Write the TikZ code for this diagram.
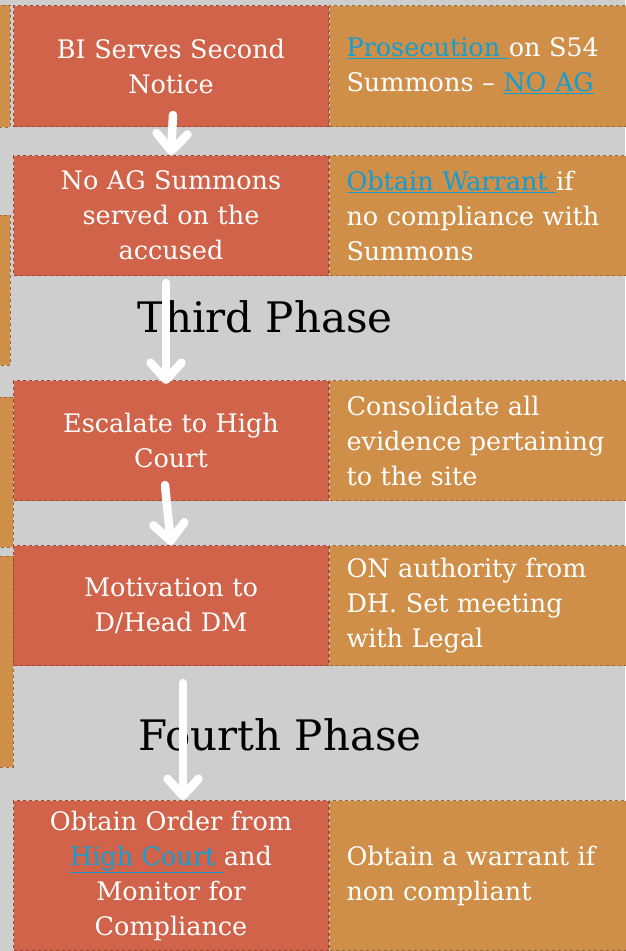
\documentclass[tikz,border=0pt]{standalone}
\usepackage{fontspec}
\setmainfont{DejaVu Serif}
\usepackage{tikz}
\usetikzlibrary{arrows.meta,calc}
\usetikzlibrary{positioning}
\definecolor{bggray}{HTML}{CECECE}
\definecolor{brick}{HTML}{D0634A}
\definecolor{brickline}{HTML}{A04632}
\definecolor{amber}{HTML}{D08F48}
\definecolor{amberline}{HTML}{9C6A35}
\definecolor{linkblue}{HTML}{129ED2}
\newcommand{\weblink}[1]{{\color{linkblue}\underline{#1}}}
\tikzset{redbox/.style={draw=brickline,dashed,line width=1pt,fill=brick,text=white,text width=291pt,inner xsep=12pt,inner ysep=0pt,minimum height=121pt,align=center,anchor=north west,font=\fontsize{25.5}{35}\selectfont},
orangebox/.style={draw=amberline,dashed,line width=1pt,fill=amber,text=white,text width=263pt,inner xsep=17pt,inner ysep=0pt,minimum height=121pt,align=left,font=\fontsize{25.5}{35}\selectfont},
phase/.style={anchor=base,text=black,font=\fontsize{42}{48}\selectfont},
flowarrow/.style={white,line width=8.5pt,line cap=round,line join=round,-{Straight Barb[length=17pt,width=31pt,round]}}}

\begin{document}
\begin{tikzpicture}[x=1pt,y=-1pt]
% --- backdrop and the cut-off boxes on the left edge
\fill[bggray] (0,0) rectangle (625,951);
\useasboundingbox (0,0) rectangle (625,951);
\draw[amberline,dashed,line width=1pt,fill=amber] (-5,5) rectangle (10,127);
\draw[amberline,dashed,line width=1pt,fill=amber] (-5,215) rectangle (10,365);
\draw[amberline,dashed,line width=1pt,fill=amber] (-5,397) rectangle (13,547);
\draw[amberline,dashed,line width=1pt,fill=amber] (-5,556) rectangle (13,767);
% --- steps (left) and notes (right)
\node[redbox] (r1) at (13,5) {BI Serves Second\\Notice};
\node[orangebox,right=0pt of r1] (o1) {\weblink{Prosecution }on S54\\Summons -- \weblink{NO AG}};
\node[redbox,minimum height=120pt] (r2) at (13,155) {No AG Summons\\served on the\\accused};
\node[orangebox,minimum height=120pt,right=0pt of r2] (o2) {\weblink{Obtain Warrant }if\\no compliance with\\Summons};
\node[redbox,minimum height=120pt] (r3) at (13,380) {Escalate to High\\Court};
\node[orangebox,minimum height=120pt,right=0pt of r3] (o3) {Consolidate all\\evidence pertaining\\to the site};
\node[redbox,minimum height=120pt] (r4) at (13,545) {Motivation to\\D/Head DM};
\node[orangebox,minimum height=120pt,right=0pt of r4] (o4) {ON authority from\\DH. Set meeting\\with Legal};
\node[redbox,minimum height=150pt] (r5) at (13,800) {Obtain Order from\\\weblink{High Court }and\\Monitor for\\Compliance};
\node[orangebox,minimum height=150pt,right=0pt of r5] (o5) {Obtain a warrant if\\non compliant};
% --- phase titles
\node[phase] (third) at (265,332) {Third Phase};
\node[phase] (fourth) at (280,750) {Fourth Phase};
% --- arrows
\coordinate (t1) at (173,115);
\coordinate (t2) at (166,283);
\coordinate (t3) at (165,485);
\coordinate (t4) at (183,683);
\draw[flowarrow] (t1) -- (r2.north);
\draw[flowarrow] (t2) -- ($(t2 |- r3.north)+(0,4)$);
\draw[flowarrow] (t3) -- (r4.north);
\draw[flowarrow] (t4) -- (t4 |- r5.north);
\end{tikzpicture}
\end{document}
